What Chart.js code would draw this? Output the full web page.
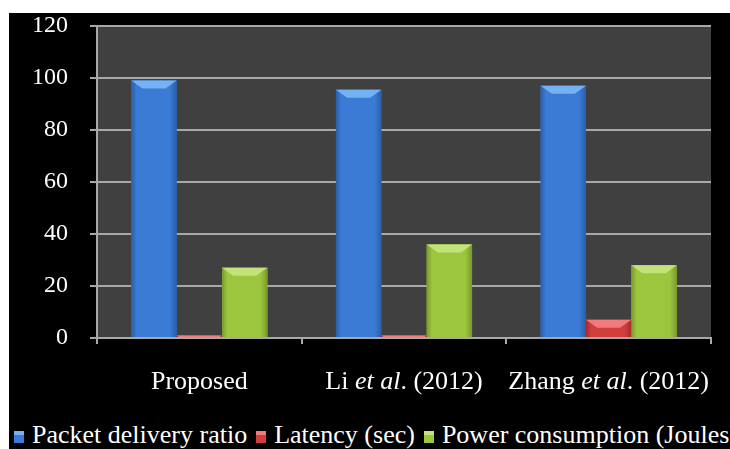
<!DOCTYPE html>
<html><head><meta charset="utf-8">
<script src="https://cdn.jsdelivr.net/npm/chart.js@4/dist/chart.umd.min.js"></script>
<style>
html,body{margin:0;padding:0;background:#fff;width:730px;height:449px;overflow:hidden;}
#wrap{position:absolute;left:9px;top:13px;width:721px;height:436px;background:#000;overflow:hidden;}
#c{position:absolute;left:0;top:0;}
#legend{position:absolute;left:5px;top:407px;white-space:nowrap;font-family:"Liberation Serif",serif;font-size:26px;line-height:30px;color:#fff;}
#legend span.box{display:inline-block;width:10px;height:12px;margin-right:8px;vertical-align:0px;}
#legend span.item{margin-right:9px;}
</style></head>
<body>
<div id="wrap"><canvas id="c" width="721" height="400"></canvas><div id="legend"></div></div>
<script>
const categories = ["Proposed", ["Li ", "et al", ". (2012)"], ["Zhang ", "et al", ". (2012)"]];
const categoryLabels = ["Proposed", "Li et al. (2012)", "Zhang et al. (2012)"];
const seriesNames = ["Packet delivery ratio", "Latency (sec)", "Power consumption (Joules)"];
const packetDelivery = [99, 95.5, 97];
const latency = [1, 1, 7];
const power = [27, 36, 28];
const yTicks = [0, 20, 40, 60, 80, 100, 120];

const FONT = '"Liberation Serif", serif';
const mainColors = ["#3b7bd6", "#d23e3e", "#9dc63f"];
const topColors = ["#74b2f4", "#f27a7a", "#c3e27a"];
const darkColors = ["#2a5ea8", "#a52a2a", "#789a2c"];

const bevel = {
  id: 'bevel',
  afterDatasetsDraw(chart) {
    const ctx = chart.ctx;
    chart.data.datasets.forEach((ds, di) => {
      chart.getDatasetMeta(di).data.forEach(el => {
        const w = el.width, x0 = el.x - w/2, x1 = el.x + w/2;
        const top = el.y, base = el.base;
        const h = Math.min(8, (base - top));
        if (h <= 0) return;
        ctx.save();
        const g = ctx.createLinearGradient(x0, 0, x1, 0);
        g.addColorStop(0, darkColors[di]);
        g.addColorStop(0.12, mainColors[di]);
        g.addColorStop(0.85, mainColors[di]);
        g.addColorStop(1, darkColors[di]);
        ctx.fillStyle = g;
        ctx.fillRect(x0, top, w, base - top);
        ctx.fillStyle = topColors[di];
        ctx.beginPath();
        ctx.moveTo(x0, top);
        ctx.lineTo(x1, top);
        ctx.lineTo(x1 - h * 1.4, top + h);
        ctx.lineTo(x0 + h * 1.4, top + h);
        ctx.closePath();
        ctx.fill();
        ctx.restore();
      });
    });
  }
};

const plotBg = {
  id: 'plotBg',
  beforeDraw(chart) {
    const a = chart.chartArea, ctx = chart.ctx;
    ctx.save();
    ctx.fillStyle = '#404040';
    ctx.fillRect(a.left, a.top, a.right - a.left, a.bottom - a.top);
    ctx.restore();
  }
};

const xLabelPlugin = {
  id: 'xLabelItalic',
  afterDraw(chart) {
    const sx = chart.scales.x, ctx = chart.ctx;
    ctx.save();
    ctx.fillStyle = '#fff';
    ctx.textBaseline = 'alphabetic';
    const y = chart.chartArea.bottom + 51;
    categories.forEach((parts, i) => {
      const cx = sx.getPixelForValue(i);
      const segs = Array.isArray(parts) ? parts : [parts];
      const fonts = segs.map((s, k) => (Array.isArray(parts) && k === 1 ? 'italic ' : '') + '26px ' + FONT);
      let total = 0;
      const widths = segs.map((s, k) => { ctx.font = fonts[k]; const w = ctx.measureText(s).width; total += w; return w; });
      let x = cx - total / 2;
      segs.forEach((s, k) => { ctx.font = fonts[k]; ctx.textAlign = 'left'; ctx.fillText(s, x, y); x += widths[k]; });
    });
    ctx.restore();
  }
};

const datasets = [packetDelivery, latency, power].map((d, i) => ({
  label: seriesNames[i], data: d, backgroundColor: mainColors[i], borderWidth: 0
}));

new Chart(document.getElementById('c'), {
  type: 'bar',
  data: { labels: categoryLabels, datasets },
  options: {
    responsive: false, animation: false,
    layout: { padding: { top: 13, right: 19, left: 0, bottom: 0 } },
    plugins: { legend: { display: false }, tooltip: { enabled: false } },
    datasets: { bar: { barPercentage: 1, categoryPercentage: 0.665 } },
    scales: {
      y: {
        min: 0, max: 120,
        afterFit(s) { s.width = 88; s.paddingTop = 0; s.paddingBottom = 0; },
        afterBuildTicks(s) { s.ticks = yTicks.map(v => ({ value: v })); },
        ticks: { color: '#fff', padding: 22, font: { family: FONT, size: 24 } },
        grid: { color: '#a8a8a8', lineWidth: 2, tickLength: 7 },
        border: { color: '#a8a8a8', width: 2 }
      },
      x: {
        afterFit(s) { s.height = 75; },
        ticks: { display: false },
        grid: { drawOnChartArea: false, drawTicks: true, tickLength: 6, color: '#a8a8a8', lineWidth: 2, offset: true },
        border: { color: '#a8a8a8', width: 2 }
      }
    }
  },
  plugins: [plotBg, bevel, xLabelPlugin]
});

const leg = document.getElementById('legend');
seriesNames.forEach((n, i) => {
  const it = document.createElement('span'); it.className = 'item';
  const b = document.createElement('span'); b.className = 'box';
  b.style.background = 'linear-gradient(' + topColors[i] + ' 0 35%, ' + mainColors[i] + ' 35%)';
  it.appendChild(b); it.appendChild(document.createTextNode(n));
  leg.appendChild(it);
});
</script>
</body></html>
